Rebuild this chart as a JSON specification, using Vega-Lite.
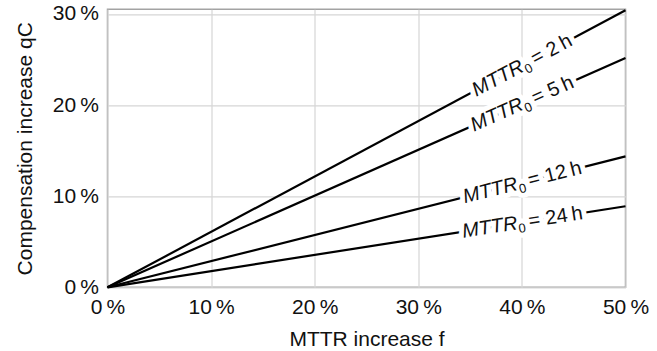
{
  "$schema": "https://vega.github.io/schema/vega-lite/v6.json",
  "autosize": "none",
  "width": 518,
  "height": 278,
  "padding": {"left": 107.5, "top": 9.3, "right": 31.5, "bottom": 63.7},
  "background": "white",
  "config": {
    "font": "Liberation Sans",
    "view": {"stroke": "#a3a3a3", "strokeWidth": 1.5},
    "axis": {
      "labelFont": "Liberation Sans",
      "titleFont": "Liberation Sans",
      "labelFontSize": 21,
      "titleFontSize": 21,
      "titleFontWeight": "normal",
      "labelColor": "#111111",
      "titleColor": "#111111",
      "gridColor": "#d6d6d6",
      "gridWidth": 1.2,
      "ticks": false,
      "domain": false,
      "labelFlush": false,
      "labelOverlap": false
    }
  },
  "datasets": {
    "curves": [
      {"series": "2 h", "f": 0, "q": 0},
      {"series": "2 h", "f": 50, "q": 30.4},
      {"series": "5 h", "f": 0, "q": 0},
      {"series": "5 h", "f": 50, "q": 25.15},
      {"series": "12 h", "f": 0, "q": 0},
      {"series": "12 h", "f": 50, "q": 14.36},
      {"series": "24 h", "f": 0, "q": 0},
      {"series": "24 h", "f": 50, "q": 8.89}
    ],
    "labels": [
      {"series": "2 h", "f": 40, "q": 24.32, "rest": "= 2\u2009h"},
      {"series": "5 h", "f": 40, "q": 20.12, "rest": "= 5\u2009h"},
      {"series": "12 h", "f": 39.5, "q": 11.34, "rest": "= 12\u2009h"},
      {"series": "24 h", "f": 39.5, "q": 7.02, "rest": "= 24\u2009h"}
    ]
  },
  "encoding": {
    "x": {
      "field": "f",
      "type": "quantitative",
      "scale": {"domain": [0, 50], "nice": false, "zero": false},
      "axis": {
        "values": [0, 10, 20, 30, 40, 50],
        "labelExpr": "datum.value + '\u2009%'",
        "labelPadding": 9.5,
        "title": "MTTR increase f",
        "titlePadding": 11
      }
    },
    "y": {
      "field": "q",
      "type": "quantitative",
      "scale": {"domain": [0, 30.5], "nice": false, "zero": false},
      "axis": {
        "values": [0, 10, 20, 30],
        "labelExpr": "datum.value + '\u2009%'",
        "labelPadding": 9,
        "title": "Compensation increase qC",
        "titlePadding": 17
      }
    }
  },
  "layer": [
    {
      "data": {"name": "curves"},
      "mark": {"type": "line", "color": "black", "strokeWidth": 2.2},
      "encoding": {"detail": {"field": "series"}}
    },
    {
      "data": {"name": "labels"},
      "transform": [
        {"calculate": "-atan2(datum.q * 278 / 30.5, datum.f * 518 / 50) * 180 / PI", "as": "angle"}
      ],
      "encoding": {
        "angle": {"field": "angle", "type": "quantitative", "scale": null}
      },
      "layer": [
        {
          "mark": {"type": "text", "align": "left", "baseline": "middle", "dx": -55, "fontSize": 20, "fontStyle": "italic", "fill": "white", "stroke": "white", "strokeWidth": 10, "strokeJoin": "round"},
          "encoding": {"text": {"value": "MTTR"}}
        },
        {
          "mark": {"type": "text", "align": "left", "baseline": "middle", "dx": 1, "dy": 6, "fontSize": 13, "fill": "white", "stroke": "white", "strokeWidth": 10, "strokeJoin": "round"},
          "encoding": {"text": {"value": "0"}}
        },
        {
          "mark": {"type": "text", "align": "left", "baseline": "middle", "dx": 12, "fontSize": 20, "fill": "white", "stroke": "white", "strokeWidth": 10, "strokeJoin": "round"},
          "encoding": {"text": {"field": "rest"}}
        },
        {
          "mark": {"type": "text", "align": "left", "baseline": "middle", "dx": -55, "fontSize": 20, "fontStyle": "italic", "color": "#111111"},
          "encoding": {"text": {"value": "MTTR"}}
        },
        {
          "mark": {"type": "text", "align": "left", "baseline": "middle", "dx": 1, "dy": 6, "fontSize": 13, "color": "#111111"},
          "encoding": {"text": {"value": "0"}}
        },
        {
          "mark": {"type": "text", "align": "left", "baseline": "middle", "dx": 12, "fontSize": 20, "color": "#111111"},
          "encoding": {"text": {"field": "rest"}}
        }
      ]
    }
  ]
}
